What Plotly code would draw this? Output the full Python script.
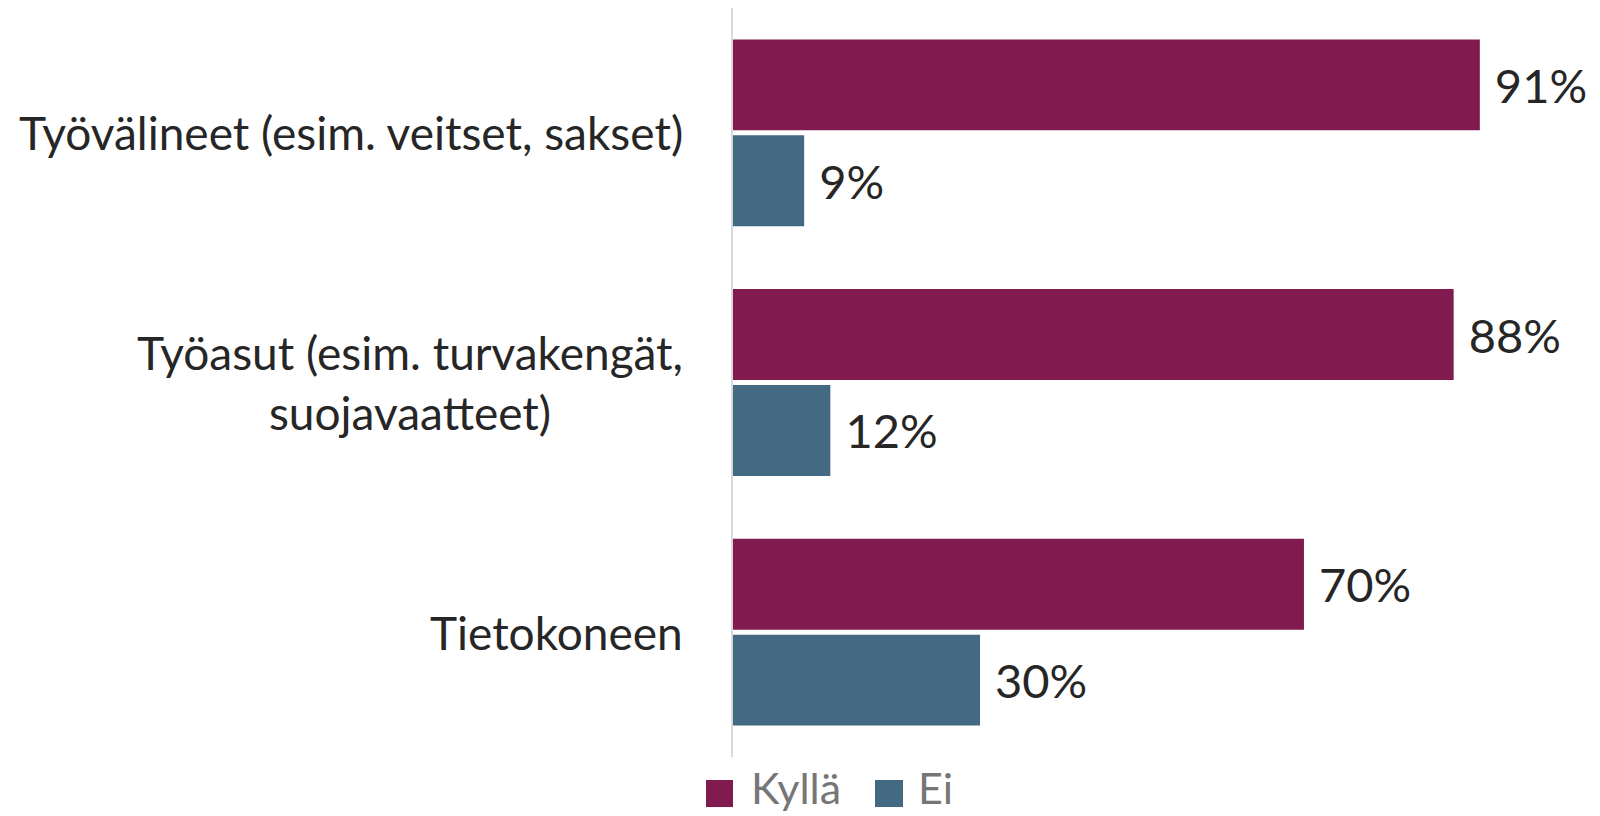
import plotly.graph_objects as go

categories = ["Työvälineet (esim. veitset, sakset)",
              "Työasut (esim. turvakengät,<br>suojavaatteet)",
              "Tietokoneen"]
kylla = [91.3, 88.1, 69.8]
ei = [8.7, 11.9, 30.2]
series_names = ["Kyllä", "Ei"]
colors = ["#801a4f", "#436a82"]

FONT = "Lato"

fig = go.Figure()
for name, vals, col in zip(series_names, [kylla, ei], colors):
    fig.add_trace(go.Bar(
        name=name, y=categories, x=vals, orientation="h",
        marker=dict(color=col, line=dict(width=0)),
        text=[f" {round(v)}%" for v in vals],
        textposition="outside",
        textfont=dict(family=FONT, size=47, color="#262626"),
        cliponaxis=False, showlegend=False,
    ))

annotations = []
for c in categories:
    annotations.append(dict(
        text=c, xref="paper", x=0, xshift=-48, xanchor="right",
        yref="y", y=c, yanchor="middle", align="center", showarrow=False,
        font=dict(family=FONT, size=46, color="#262626"),
    ))

# legend: swatches (shapes) + labels (annotations)
swatch_x = [(-0.033, 0.0), (0.1736, 0.2078)]
label_x = [0.0196, 0.2237]
shapes = []
for name, col, (x0, x1), lx in zip(series_names, colors, swatch_x, label_x):
    shapes.append(dict(type="rect", xref="paper", yref="paper",
                       x0=x0, x1=x1, y0=-0.0668, y1=-0.0307,
                       fillcolor=col, line=dict(width=0)))
    annotations.append(dict(
        text=name, xref="paper", yref="paper", x=lx, y=-0.0775,
        xanchor="left", yanchor="bottom", showarrow=False,
        font=dict(family=FONT, size=43, color="#767676"),
    ))

fig.update_layout(
    width=1592, height=808,
    margin=dict(l=725, r=49, t=0, b=59),
    paper_bgcolor="white", plot_bgcolor="white",
    barmode="group", bargap=0.232, bargroupgap=0.052,
    xaxis=dict(range=[0, 100], showgrid=False, zeroline=False,
               showticklabels=False, showline=False),
    yaxis=dict(autorange="reversed", showticklabels=False, showgrid=False,
               showline=True, linecolor="#d9d9d9", linewidth=2, ticks=""),
    annotations=annotations, shapes=shapes,
)

fig.write_html("out.html")
